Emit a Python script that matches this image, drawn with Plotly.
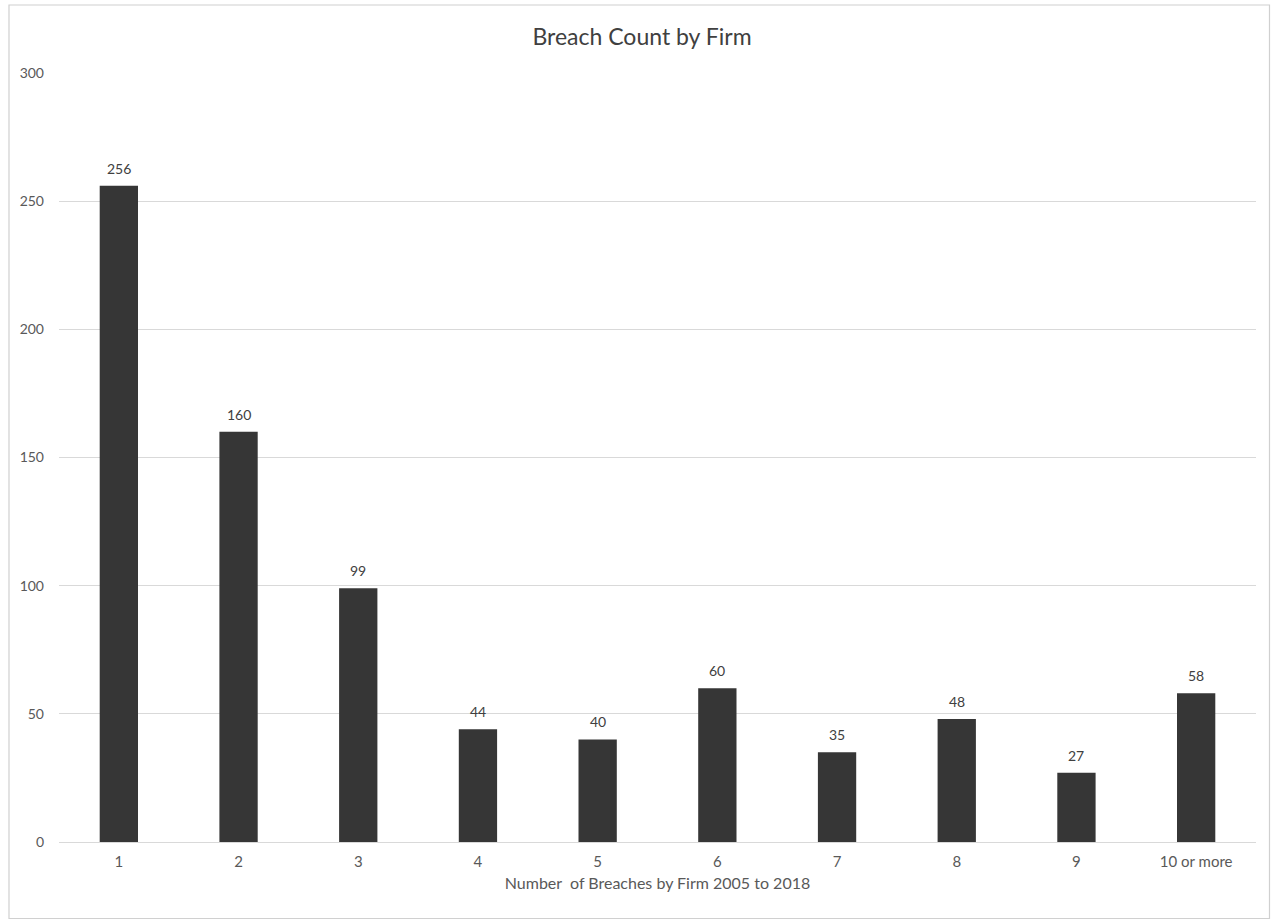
import plotly.graph_objects as go

categories = ["1", "2", "3", "4", "5", "6", "7", "8", "9", "10 or more"]
firm_counts = [256, 160, 99, 44, 40, 60, 35, 48, 27, 58]
y_ticks = [0, 50, 100, 150, 200, 250, 300]

W, H = 1271, 920
L, R, T, B = 59, 15, 73, 78
plot_w = W - L - R
plot_h = H - T - B

FONT = "Lato, 'Open Sans', sans-serif"

def px_x(p):
    return (p - L) / plot_w

def px_y(p):
    return (H - B - p) / plot_h

fig = go.Figure(
    go.Bar(
        x=categories,
        y=firm_counts,
        marker=dict(color="#363636", line=dict(width=0)),
        hoverinfo="x+y",
    )
)

# value labels above each bar (category axis positions are by index)
for i, val in enumerate(firm_counts):
    fig.add_annotation(
        x=i, y=val, text=str(val), showarrow=False,
        yanchor="bottom", yshift=7,
        font=dict(family=FONT, size=14, color="#404040"),
    )

# chart frame
fig.add_shape(
    type="rect", xref="paper", yref="paper",
    x0=px_x(9), x1=px_x(1269.5), y0=px_y(918.5), y1=px_y(5),
    line=dict(color="#d0d0d0", width=1.2), fillcolor="rgba(0,0,0,0)", layer="below",
)

fig.update_layout(
    width=W, height=H,
    margin=dict(l=L, r=R, t=T, b=B, autoexpand=False),
    paper_bgcolor="white", plot_bgcolor="white",
    bargap=0.68,
    showlegend=False,
    font=dict(family=FONT, color="#595959", size=14),
    title=dict(
        text="Breach Count by Firm",
        x=642 / W, xanchor="center",
        y=1 - 37 / H, yanchor="middle",
        font=dict(size=23, color="#404040"),
    ),
    xaxis=dict(
        type="category",
        showgrid=False,
        showline=True, linecolor="#d9d9d9", linewidth=1,
        ticks="", ticklabelstandoff=6,
        tickfont=dict(size=15, color="#595959"),
        title=dict(text="Number  of Breaches by Firm 2005 to 2018",
                   font=dict(size=16, color="#595959"), standoff=8),
    ),
    yaxis=dict(
        range=[0, 300],
        tickvals=y_ticks,
        showgrid=True, gridcolor="#d9d9d9", gridwidth=1,
        zeroline=True, zerolinecolor="#d9d9d9", zerolinewidth=1,
        showline=False, ticks="", ticklabelstandoff=14,
        tickfont=dict(size=14, color="#595959"),
    ),
)

fig.write_html("out.html")
